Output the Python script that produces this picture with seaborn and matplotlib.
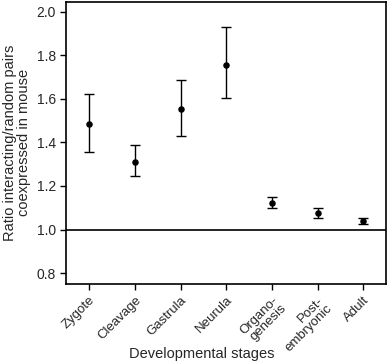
import numpy as np
import matplotlib
matplotlib.use('Agg')
import matplotlib.pyplot as plt
import seaborn as sns
import pandas as pd

# ── Datos ────────────────────────────────────────────────────────────────
stages = ["Zygote", "Cleavage", "Gastrula", "Neurula", "Organo-\ngenesis",
          "Post-\nembryonic", "Adult"]
ratio  = [1.485, 1.312, 1.554, 1.757, 1.123, 1.077, 1.040]
upper  = [1.623, 1.388, 1.687, 1.930, 1.148, 1.099, 1.054]
lower  = [1.358, 1.245, 1.430, 1.606, 1.100, 1.054, 1.026]

df = pd.DataFrame({"stage": stages, "ratio": ratio})

sns.set_style("ticks")
plt.rcParams['font.family'] = ['Liberation Sans', 'DejaVu Sans']

fig, ax = plt.subplots(figsize=(3.9, 3.64), dpi=100)

x = np.arange(len(stages))
yerr = [np.array(ratio) - np.array(lower), np.array(upper) - np.array(ratio)]
ax.errorbar(x, ratio, yerr=yerr, fmt='none', ecolor='black', elinewidth=1.0,
            capsize=3.5, capthick=1.0, zorder=2)
sns.scatterplot(data=df, x="stage", y="ratio", ax=ax, color='black', s=22,
                edgecolor='black', linewidth=0, zorder=3)

ax.axhline(1.0, color='black', lw=1.2, zorder=1)
ax.set_xlim(-0.5, 6.5)
ax.set_ylim(0.75, 2.046)
yt = [0.8, 1.0, 1.2, 1.4, 1.6, 1.8, 2.0]
ax.set_yticks(yt)
ax.set_yticklabels([f"{v:.1f}" for v in yt])
ax.set_xticks(x)
ax.set_xticklabels(stages, rotation=45, ha='right', rotation_mode='anchor',
                   fontsize=9.5, linespacing=0.95)
ax.tick_params(axis='y', labelsize=10)
ax.tick_params(length=4, width=1, color='black')
for sp in ax.spines.values():
    sp.set_linewidth(1.2)
    sp.set_color('black')

ax.set_xlabel("Developmental stages", fontsize=10.5)
ax.xaxis.set_label_coords(0.425, -0.225)
ax.set_ylabel("Ratio interacting/random pairs\ncoexpressed in mouse", fontsize=10.5,
              linespacing=1.0)

fig.subplots_adjust(left=0.17, right=0.99, top=0.995, bottom=0.22)
plt.savefig('out.png', dpi=100)
plt.close()
